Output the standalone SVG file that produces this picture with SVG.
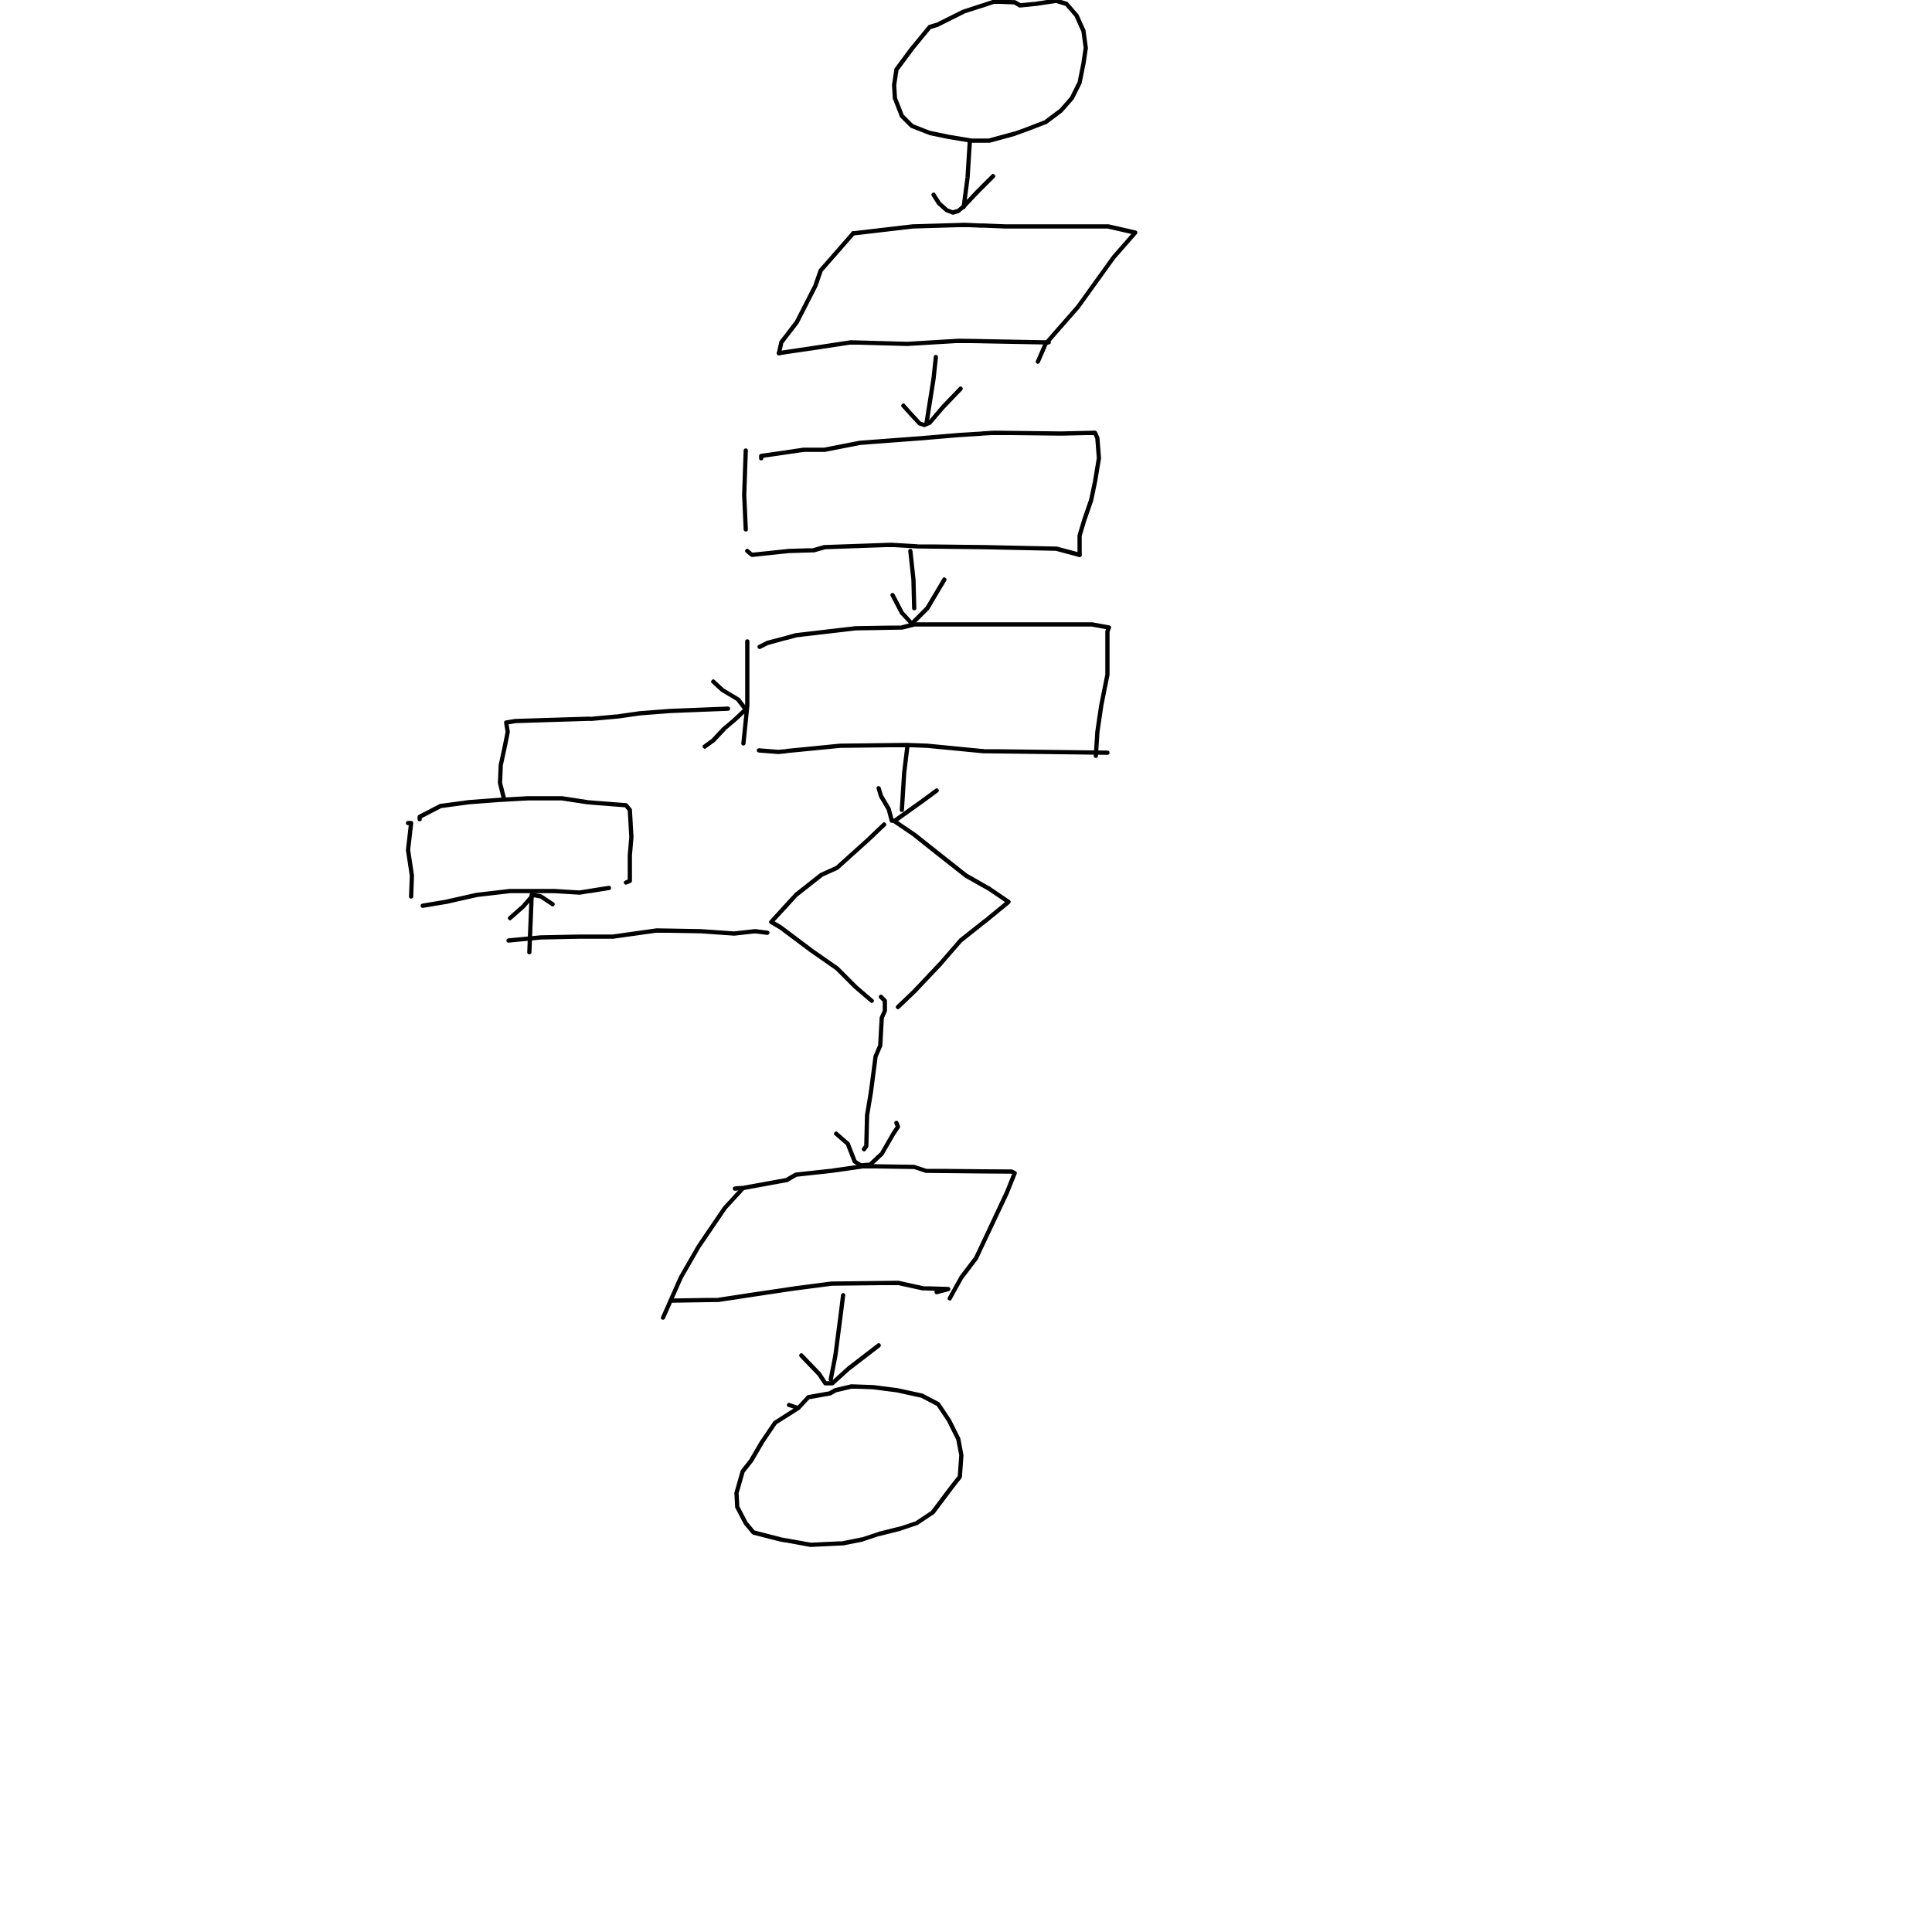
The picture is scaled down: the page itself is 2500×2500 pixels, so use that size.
<svg xmlns="http://www.w3.org/2000/svg" width="2500" height="2500" viewBox="0 0 2500 2500">
<style>
  .s { fill: none; stroke: #000; stroke-width: 5.5; stroke-linecap: round; stroke-linejoin: round; }
</style>
<rect width="2500" height="2500" fill="#fff"/>
<g id="start">
  <polyline class="s" points="1313,3 1320,7 1340,5 1367,1 1380,5 1393,20 1402,40 1405,62 1402,82 1397,107 1387,127 1373,143 1353,158 1327,168 1313,173 1280,182 1257,182 1227,177 1203,172 1180,163 1167,150 1158,127 1157,110 1160,90 1180,63 1203,35 1213,32 1247,15 1287,2 1313,3"/>
</g>
<g id="input">
  <polyline class="s" points="1104,302 1181,293 1248,291 1301,293 1434,293 1469,301 1441,333 1395,397 1353,445 1343,468"/>
  <polyline class="s" points="1357,443 1350,443 1241,441 1174,445 1101,443 1055,450 1008,457"/>
  <polyline class="s" points="1008,457 1011,443 1031,417 1055,370 1062,350 1104,302"/>
</g>
<g id="process1">
  <polyline class="s" points="965,583 963,640 965,685"/>
  <polyline class="s" points="985,593 985,590 1040,582 1067,582 1113,573 1193,567 1240,563 1287,560 1373,561 1417,560 1420,567 1422,593 1417,623 1412,647 1403,673 1397,693 1397,718"/>
  <polyline class="s" points="967,713 973,718 1020,713 1053,712 1067,708 1153,705 1187,707 1273,708 1367,710 1397,718"/>
</g>
<g id="process2">
  <polyline class="s" points="967,830 967,913 962,962"/>
  <polyline class="s" points="983,837 993,832 1030,822 1107,813 1167,812 1183,808 1273,808 1413,808 1435,812 1433,817 1433,873 1425,913 1420,947 1418,978"/>
  <polyline class="s" points="982,971 1007,973 1087,965 1173,964 1200,965 1273,972 1433,974"/>
</g>
<g id="decision">
  <polyline class="s" points="1144,1067 1123,1087 1083,1123 1063,1132 1030,1158 998,1193 1010,1200 1050,1230 1083,1253 1107,1277 1128,1295"/>
  <polyline class="s" points="1158,1063 1183,1080 1217,1107 1250,1133 1280,1150 1305,1167 1277,1190 1243,1217 1217,1247 1183,1283 1162,1303"/>
</g>
<g id="update">
  <polyline class="s" points="528,1065 532,1065 528,1100 533,1133 532,1160"/>
  <polyline class="s" points="543,1060 543,1057 570,1043 607,1038 647,1035 683,1033 727,1033 760,1038 810,1042 815,1048 817,1083 815,1107 815,1140 810,1142"/>
  <polyline class="s" points="547,1172 577,1167 617,1158 660,1153 687,1153 717,1153 750,1155 788,1149"/>
</g>
<g id="output">
  <polyline class="s" points="951,1538 963,1537 1018,1527 1030,1520 1076,1515 1118,1509 1183,1510 1198,1515 1309,1516 1313,1518 1307,1533 1303,1543 1263,1628 1244,1653 1229,1680"/>
  <polyline class="s" points="1212,1672 1227,1668 1194,1667 1162,1660 1076,1661 1030,1667 976,1675 930,1682 869,1683"/>
  <polyline class="s" points="961,1538 938,1563 904,1613 881,1653 858,1705"/>
</g>
<g id="end">
  <polyline class="s" points="1021,1818 1033,1822 1046,1808 1074,1803 1081,1799 1102,1794 1130,1795 1161,1799 1193,1806 1214,1817 1228,1838 1240,1862 1244,1883 1242,1911 1231,1925 1207,1957 1186,1971 1165,1978 1137,1985 1116,1992 1091,1997 1049,1999 1010,1992 975,1983 965,1971 954,1950 953,1932 961,1904 972,1890 986,1866 1003,1841 1014,1834 1033,1822"/>
</g>
<g id="connectors">
  <polyline class="s" points="1255,182 1252,230 1247,268"/>
  <polyline class="s" points="1208,252 1215,263 1225,272 1233,275 1240,273 1247,267 1265,248 1285,228"/>
  <polyline class="s" points="1211,462 1208,490 1199,547"/>
  <polyline class="s" points="1169,525 1178,535 1190,548 1196,550 1203,547 1220,527 1243,503"/>
  <polyline class="s" points="1178,713 1182,750 1183,787"/>
  <polyline class="s" points="1155,770 1167,793 1180,807 1200,787 1222,750"/>
  <polyline class="s" points="1174,967 1170,1000 1167,1048"/>
  <polyline class="s" points="1137,1020 1140,1030 1150,1047 1154,1062 1158,1062 1193,1037 1212,1023"/>
  <polyline class="s" points="1140,1290 1145,1295 1145,1308 1141,1317 1139,1353 1133,1367 1127,1413 1122,1443 1121,1483 1118,1487"/>
  <polyline class="s" points="1082,1467 1097,1480 1106,1503 1114,1508 1126,1507 1141,1493 1156,1467 1162,1458 1160,1453"/>
  <polyline class="s" points="1091,1676 1088,1700 1081,1754 1075,1785"/>
  <polyline class="s" points="1037,1754 1060,1778 1068,1790 1077,1790 1098,1771 1137,1741"/>
  <polyline class="s" points="993,1207 977,1205 950,1208 907,1205 850,1204 793,1212 750,1212 700,1213 658,1217"/>
  <polyline class="s" points="685,1232 688,1158"/>
  <polyline class="s" points="660,1188 677,1173 690,1158 700,1160 715,1170"/>
  <polyline class="s" points="652,1033 647,1013 648,990 653,967 657,947 655,935 667,933 767,930 800,927 828,923 867,920 942,917"/>
  <polyline class="s" points="923,882 935,893 955,905 965,918 950,932 937,943 923,958 912,966"/>
</g>
</svg>
